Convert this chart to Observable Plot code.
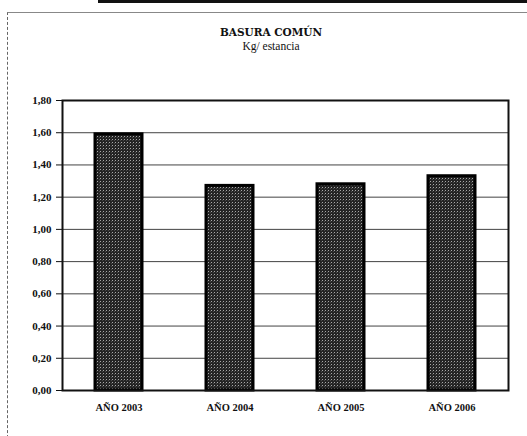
<!DOCTYPE html>
<html>
<head>
<meta charset="utf-8">
<script src="https://cdn.jsdelivr.net/npm/d3@7"></script>
<script src="https://cdn.jsdelivr.net/npm/@observablehq/plot@0.6"></script>
<style>
  html, body { margin: 0; padding: 0; background: #fff; }
  #page { position: relative; width: 527px; height: 436px; overflow: hidden; font-family: "Liberation Serif", "DejaVu Serif", serif; }
  #topbar { position: absolute; left: 98px; top: 0; width: 429px; height: 3px; background: #111; }
  #frame { position: absolute; left: 7px; top: 12px; width: 540px; height: 440px; border-left: 1px dashed #666; border-top: 1px solid #888; }
  #title { position: absolute; left: 0; width: 542px; top: 26px; text-align: center; font-family: "DejaVu Serif", serif; font-weight: bold; font-size: 10.5px; color: #111; }
  #subtitle { position: absolute; left: 0; width: 542px; top: 40px; text-align: center; font-size: 11.5px; color: #111; }
  #chart { position: absolute; left: 0; top: 0; }
</style>
</head>
<body>
<div id="page">
  <div id="topbar"></div>
  <div id="frame"></div>
  <div id="title">BASURA COMÚN</div>
  <div id="subtitle">Kg/ estancia</div>
  <div id="chart"></div>
</div>
<script>
const years = ["AÑO 2003", "AÑO 2004", "AÑO 2005", "AÑO 2006"];
const values = [1.59, 1.27, 1.28, 1.33];
const yTicks = [0, 0.2, 0.4, 0.6, 0.8, 1.0, 1.2, 1.4, 1.6, 1.8];

const data = years.map((y, i) => ({year: y, value: values[i]}));
const fmt = d => d.toFixed(2).replace(".", ",");

const plot = Plot.plot({
  width: 527,
  height: 436,
  marginLeft: 62,
  marginRight: 19,
  marginTop: 100,
  marginBottom: 46,
  style: {fontFamily: "Liberation Serif, serif", fontSize: "10px", background: "transparent", color: "#111"},
  x: {domain: years, paddingInner: 0.58, paddingOuter: 0.29, label: null},
  y: {domain: [0, 1.8], label: null},
  marks: [
    Plot.ruleY(yTicks, {stroke: "#222", strokeWidth: 1, strokeOpacity: 0.85}),
    Plot.barY(data, {x: "year", y: "value", fill: "url(#stipple)", stroke: "#000", strokeWidth: 3}),
    Plot.frame({stroke: "#111", strokeWidth: 2}),
    Plot.axisY(yTicks, {tickFormat: fmt, tickSize: 6, tickPadding: 5, fontWeight: "bold", fontSize: 11, label: null}),
    Plot.axisX({tickSize: 0, tickPadding: 13, fontWeight: "bold", fontSize: 10.5, label: null})
  ]
});

const svg = d3.select(plot);
const defs = svg.insert("defs", ":first-child");
const pat = defs.append("pattern").attr("id", "stipple").attr("patternUnits", "userSpaceOnUse")
  .attr("width", 3).attr("height", 3);
pat.append("rect").attr("width", 3).attr("height", 3).attr("fill", "#242424");
pat.append("rect").attr("x", 1).attr("y", 1).attr("width", 1).attr("height", 1).attr("fill", "#a8a8a8");
pat.append("rect").attr("x", 0).attr("y", 2).attr("width", 1).attr("height", 1).attr("fill", "#4a4a4a");

document.getElementById("chart").appendChild(plot);
</script>
</body>
</html>
